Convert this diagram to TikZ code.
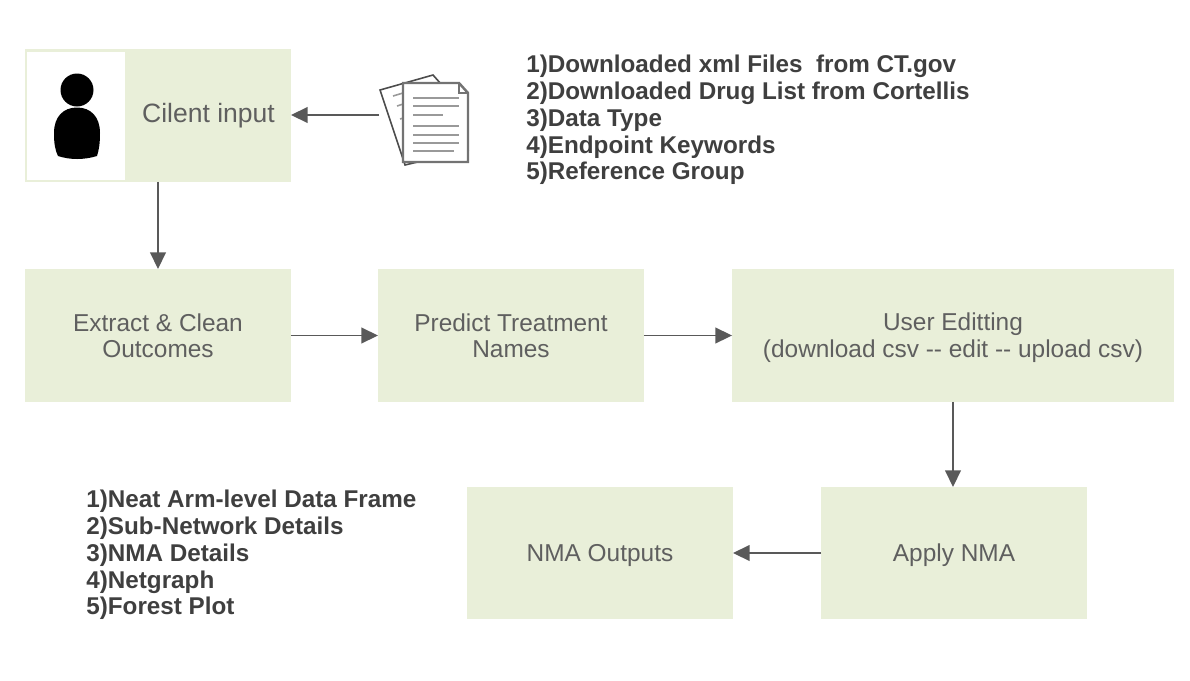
\documentclass[tikz,border=0pt]{standalone}
\usepackage{fontspec}
\setmainfont{Liberation Sans}
\usetikzlibrary{arrows.meta}
\definecolor{boxgreen}{HTML}{E9EFD9}
\definecolor{linegray}{HTML}{595959}
\definecolor{textgray}{HTML}{5F5F5F}
\definecolor{listgray}{HTML}{3F3F3F}
\tikzset{
  flowbox/.style={fill=boxgreen,minimum width=5.32cm,minimum height=2.66cm,outer sep=0pt,inner sep=0pt,align=center,text=textgray,font=\fontsize{13.9}{15.0}\selectfont},
  flowline/.style={draw=linegray,line width=.8pt,-{Triangle[length=9.5pt,width=9pt]}},
  listtext/.style={align=left,anchor=north west,inner sep=0pt,text=listgray,font=\fontsize{13.8}{15.2}\bfseries\selectfont},
  pageline/.style={draw=black!40,line width=.9pt}
}
\begin{document}
\begin{tikzpicture}[x=.02cm,y=-.02cm]
\useasboundingbox (0,0) rectangle (1190,680);
% boxes
\node[flowbox] (client) at (158,115.5) {};
\node[fill=white,minimum width=1.96cm,minimum height=2.56cm,inner sep=0pt] (photo) at (76,116) {};
\node[text=textgray,font=\fontsize{15.1}{17}\selectfont] (clientlabel) at (208.5,116) {Cilent input};
\node[flowbox] (extract) at (158,335.5) {Extract \& Clean\\Outcomes};
\node[flowbox] (predict) at (511,335.5) {Predict Treatment\\Names};
\node[flowbox,minimum width=8.84cm] (edit) at (953,335.5) {\rule{0pt}{12.4pt}User Editting\\(download csv -{}- edit -{}- upload csv)};
\node[flowbox,minimum height=2.64cm] (apply) at (954,553) {\rule{0pt}{12.4pt}Apply NMA};
\node[flowbox,minimum height=2.64cm] (outputs) at (600,553) {\rule{0pt}{12.4pt}NMA Outputs};
% person
\fill (77,90) circle (16.5);
\fill (77,107.5) .. controls (63,107.5) and (54,117) .. (54,133)
  .. controls (54,143) and (55,150) .. (58,156)
  .. controls (70,160) and (84,160) .. (97,156)
  .. controls (99,150) and (100,143) .. (100,133)
  .. controls (100,117) and (91,107.5) .. (77,107.5) -- cycle;
% documents
\filldraw[fill=white,draw=black!70,line width=.9pt] (380,90) -- (433,75) -- (441,84) -- (468,150) -- (405,165) -- cycle;
\draw[pageline] (393,96) -- (403,93) (397,106) -- (403,104) (400,119) -- (403,118) (402,127) -- (403,127);
\filldraw[fill=white,draw=black!55,line width=1.4pt] (403,83) -- (459,83) -- (468,93) -- (468,162) -- (403,162) -- cycle;
\draw[draw=black!55,line width=.8pt] (459,83) -- (459,93) -- (468,93);
\foreach \yy/\xx in {98/459,106/459,115/443,126/459,135/459,143/459,151/454}
  \draw[pageline] (413,\yy) -- (\xx,\yy);
\coordinate (docs) at (379,115);
% connectors
\draw[flowline] (docs) -- (docs -| client.east);
\draw[flowline] (client.south) -- (extract.north);
\draw[flowline] (extract.east) -- (predict.west);
\draw[flowline] (predict.east) -- (edit.west);
\draw[flowline] (edit.south) -- (edit.south |- apply.north);
\draw[flowline] (apply.west) -- (outputs.east);
% lists
\node[listtext] (inputs) at (526,55) {1)Downloaded xml Files\ \ from CT.gov\\2)Downloaded Drug List from Cortellis\\3)Data Type\\4)Endpoint Keywords\\5)Reference Group};
\node[listtext] (results) at (86,490) {1)Neat Arm-level Data Frame\\2)Sub-Network Details\\3)NMA Details\\4)Netgraph\\5)Forest Plot};
\end{tikzpicture}
\end{document}
